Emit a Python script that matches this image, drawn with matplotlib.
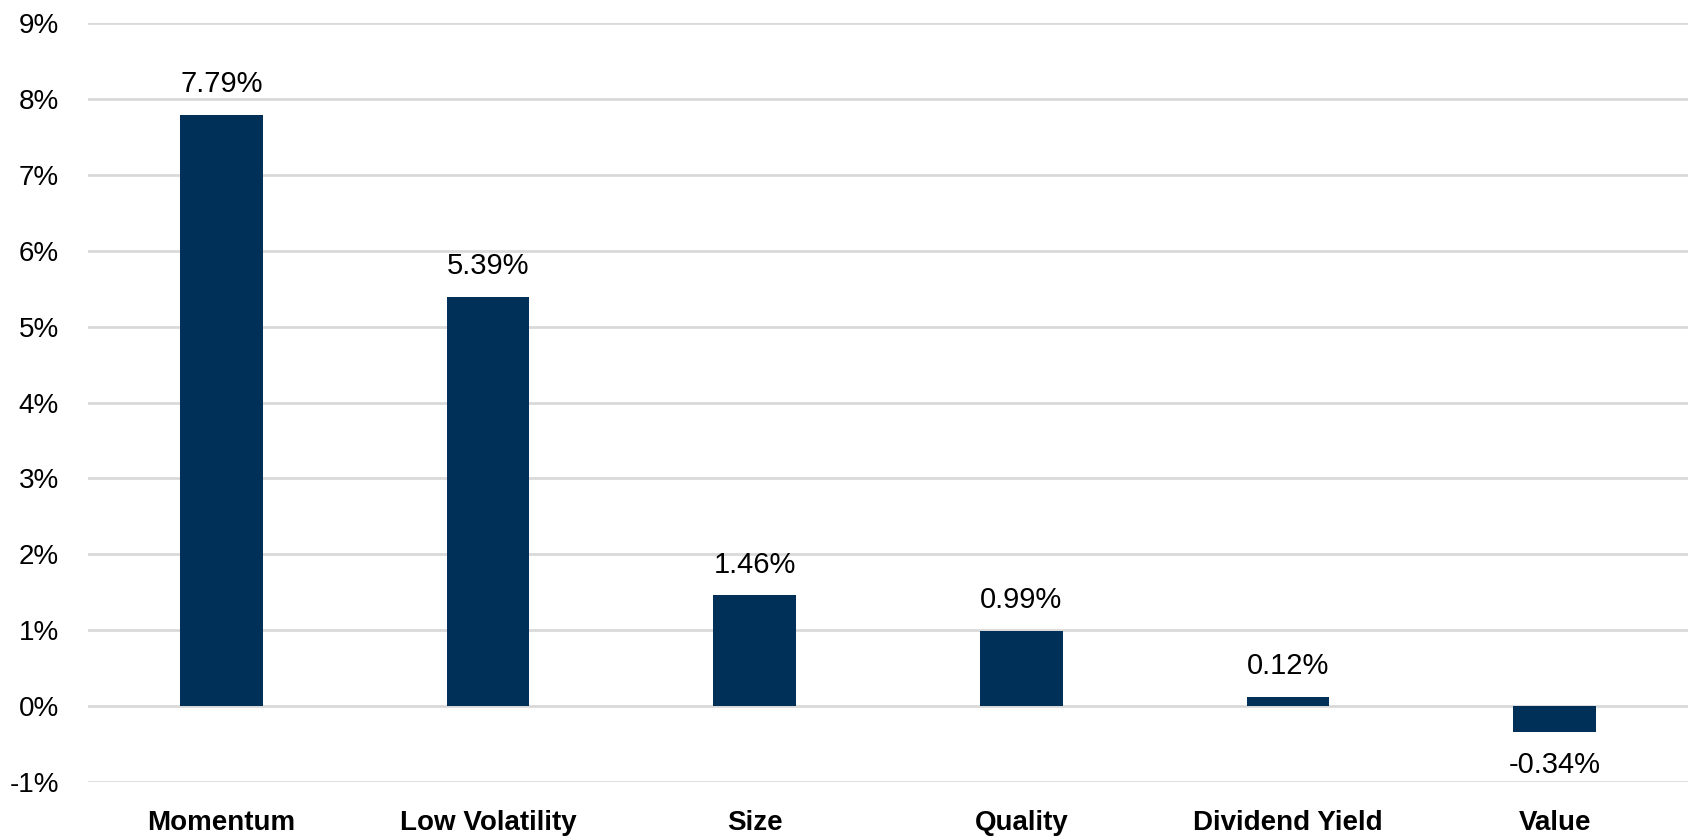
import numpy as np
import matplotlib.pyplot as plt
from matplotlib.ticker import FuncFormatter

# Factor returns (%)
factors = ['Momentum', 'Low Volatility', 'Size', 'Quality', 'Dividend Yield', 'Value']
returns = [7.79, 5.39, 1.46, 0.99, 0.12, -0.34]
y_ticks = list(range(-1, 10))

BAR_COLOR = '#003057'
GRID_COLOR = '#d9d9d9'
FONT = ['Liberation Sans Narrow', 'Liberation Sans', 'DejaVu Sans']

plt.rcParams['font.family'] = FONT

fig = plt.figure(figsize=(16.88, 8.39), dpi=100)
ax = fig.add_axes([88 / 1688, 57 / 839, 1600 / 1688, 759 / 839])

x = np.arange(len(factors))
ax.bar(x, returns, width=0.31, color=BAR_COLOR, zorder=3)

ax.set_xlim(-0.5, len(factors) - 0.5)
ax.set_ylim(-1, 9)
ax.set_yticks(y_ticks)
ax.yaxis.set_major_formatter(FuncFormatter(lambda v, _: f'{v:.0f}%'))
ax.grid(axis='y', color=GRID_COLOR, linewidth=2, zorder=0)

for side in ['top', 'right', 'left', 'bottom']:
    ax.spines[side].set_visible(False)

ax.tick_params(axis='y', length=0, pad=21, labelsize=20)
ax.set_xticks(x)
ax.set_xticklabels(factors, fontsize=20, fontweight='bold')
ax.tick_params(axis='x', length=0, pad=20)

# value labels above positive bars, below negative ones
for xi, v in zip(x, returns):
    if v >= 0:
        ax.annotate(f'{v:.2f}%', (xi, v), xytext=(0, 12), textcoords='offset points',
                    ha='center', va='bottom', fontsize=21)
    else:
        ax.annotate(f'{v:.2f}%', (xi, v), xytext=(0, -14), textcoords='offset points',
                    ha='center', va='top', fontsize=21)

fig.savefig('out.png', dpi=100)
